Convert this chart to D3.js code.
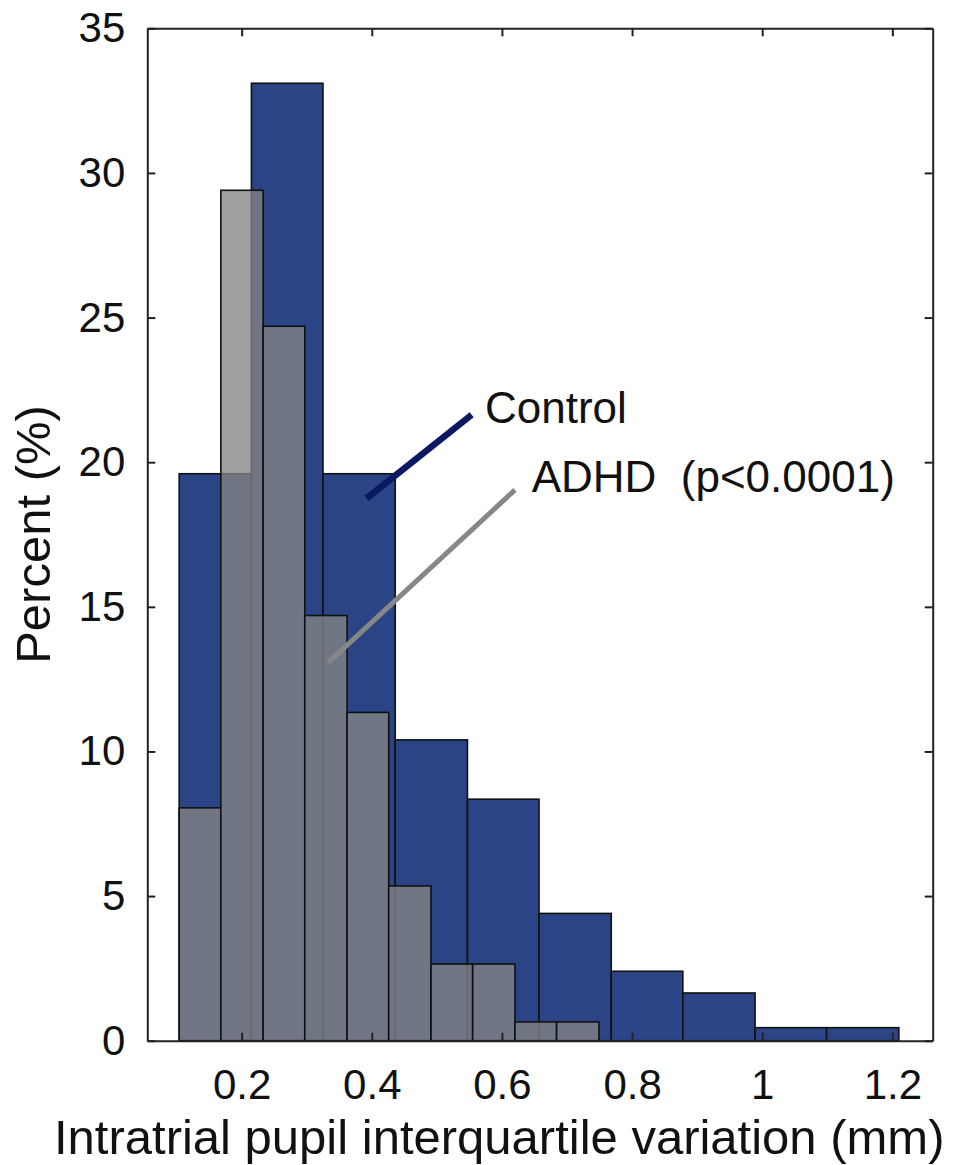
<!DOCTYPE html>
<html>
<head>
<meta charset="utf-8">
<script src="https://cdn.jsdelivr.net/npm/d3@7"></script>
<style>
  body { margin: 0; background: #fff; }
  svg { display: block; font-family: Helvetica, "Liberation Sans", Arial, sans-serif; }
</style>
</head>
<body>
<div id="chart"></div>
<script>
// Histogram bin edges (mm) and percentages
const controlEdges = [0.104, 0.215, 0.325, 0.436, 0.547, 0.657, 0.768, 0.878, 0.989, 1.099, 1.210];
const controlPct = [19.6, 33.1, 19.6, 10.4, 8.35, 4.4, 2.4, 1.65, 0.45, 0.45];

const adhdEdges = [0.104, 0.168, 0.233, 0.297, 0.362, 0.426, 0.491, 0.555, 0.620, 0.684, 0.749];
const adhdPct = [8.05, 29.4, 24.7, 14.7, 11.35, 5.35, 2.65, 2.65, 0.65, 0.65];

const xTicks = [0.2, 0.4, 0.6, 0.8, 1, 1.2];
const yTicks = [0, 5, 10, 15, 20, 25, 30, 35];

// annotation pointer lines, in data units
const labels = [
  { text: "Control", line: [[0.392, 18.75], [0.5535, 21.64]], at: [0.574, 21.35], color: "#0b1862", lw: 6.5 },
  { text: "ADHD\u00a0\u00a0(p<0.0001)", line: [[0.333, 13.07], [0.62, 19.04]], at: [0.6457, 18.98], color: "#878787", lw: 5 }
];

const W = 972, H = 1165;
const margin = { top: 28.3, left: 147.3, right: 972 - 932.7, bottom: 1165 - 1040.7 };
const iw = W - margin.left - margin.right;
const ih = H - margin.top - margin.bottom;

const svg = d3.select("#chart").append("svg").attr("width", W).attr("height", H);
const g = svg.append("g").attr("transform", `translate(${margin.left},${margin.top})`);

const x = d3.scaleLinear().domain([0.055, 1.262]).range([0, iw]);
const y = d3.scaleLinear().domain([0, 35]).range([ih, 0]);

function bins(edges, pct) {
  return pct.map((p, i) => ({ x0: edges[i], x1: edges[i + 1], p }));
}

// Control bars (drawn first)
g.append("g")
  .selectAll("rect")
  .data(bins(controlEdges, controlPct))
  .join("rect")
  .attr("x", (d) => x(d.x0))
  .attr("width", (d) => x(d.x1) - x(d.x0))
  .attr("y", (d) => y(d.p))
  .attr("height", (d) => y(0) - y(d.p))
  .attr("fill", "#2a4485")
  .attr("stroke", "#111")
  .attr("stroke-width", 1.6);

// ADHD bars, semi-transparent on top
g.append("g")
  .selectAll("rect")
  .data(bins(adhdEdges, adhdPct))
  .join("rect")
  .attr("x", (d) => x(d.x0))
  .attr("width", (d) => x(d.x1) - x(d.x0))
  .attr("y", (d) => y(d.p))
  .attr("height", (d) => y(0) - y(d.p))
  .attr("fill", "rgb(132,132,132)")
  .attr("fill-opacity", 0.78)
  .attr("stroke", "#111")
  .attr("stroke-width", 1.6);

// annotations
labels.forEach((l) => {
  g.append("line")
    .attr("x1", x(l.line[0][0]))
    .attr("y1", y(l.line[0][1]))
    .attr("x2", x(l.line[1][0]))
    .attr("y2", y(l.line[1][1]))
    .attr("stroke", l.color)
    .attr("stroke-width", l.lw);
  g.append("text")
    .attr("x", x(l.at[0]))
    .attr("y", y(l.at[1]))
    .attr("font-size", 44)
    .attr("fill", "#111")
    .text(l.text);
});

// axes, MATLAB style: inward ticks on all four sides
const tick = 8;
const style = (sel) => {
  sel.select(".domain").attr("stroke", "#222").attr("stroke-width", 2);
  sel.selectAll(".tick line").attr("stroke", "#222").attr("stroke-width", 2);
  sel.selectAll(".tick text").attr("fill", "#111").attr("font-size", 42);
};

g.append("g")
  .attr("transform", `translate(0,${ih})`)
  .call(d3.axisBottom(x).tickValues(xTicks).tickFormat(d3.format("")).tickSize(-tick).tickSizeOuter(0).tickPadding(28))
  .call(style)
  .call((s) => s.attr("font-family", null));

g.append("g")
  .call(d3.axisTop(x).tickValues(xTicks).tickFormat("").tickSize(-tick).tickSizeOuter(0))
  .call(style);

g.append("g")
  .call(d3.axisLeft(y).tickValues(yTicks).tickSize(-tick).tickSizeOuter(0).tickPadding(22))
  .call(style)
  .call((s) => s.attr("font-family", null));

g.append("g")
  .attr("transform", `translate(${iw},0)`)
  .call(d3.axisRight(y).tickValues(yTicks).tickFormat("").tickSize(-tick).tickSizeOuter(0))
  .call(style);

// axis titles
svg.append("text")
  .attr("x", 54)
  .attr("y", 1154)
  .attr("font-size", 49)
  .attr("fill", "#111")
  .text("Intratrial pupil interquartile variation (mm)");

svg.append("text")
  .attr("transform", `translate(50,${margin.top + ih / 2}) rotate(-90)`)
  .attr("text-anchor", "middle")
  .attr("font-size", 49)
  .attr("fill", "#111")
  .text("Percent (%)");
</script>
</body>
</html>
